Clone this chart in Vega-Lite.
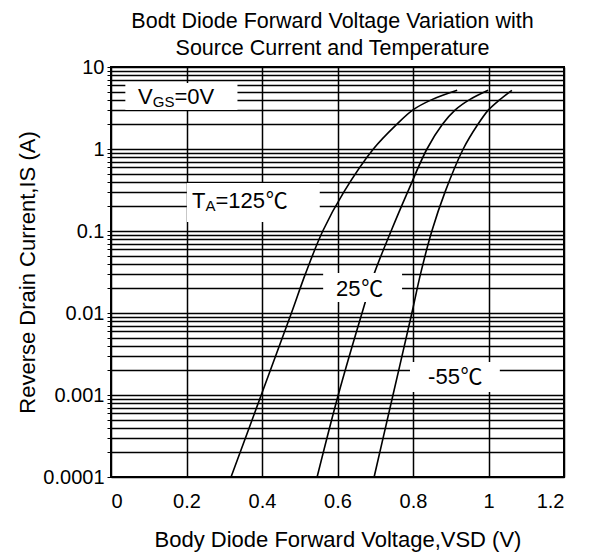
{
  "$schema": "https://vega.github.io/schema/vega-lite/v6.json",
  "width": 453,
  "height": 410,
  "autosize": "none",
  "padding": {"left": 111, "top": 67, "right": 28, "bottom": 80},
  "background": "white",
  "config": {
    "font": "Liberation Sans",
    "view": {"stroke": "black", "strokeWidth": 2},
    "axis": {"labelFont": "Liberation Sans", "titleFont": "Liberation Sans", "labelFontSize": 20, "titleFontSize": 22, "labelColor": "black", "titleColor": "black", "titleFontWeight": "normal", "gridColor": "black", "gridOpacity": 1, "gridWidth": 1.5, "domain": false}
  },
  "title": {
    "text": ["Bodt Diode Forward Voltage Variation with", "Source Current and Temperature"],
    "font": "Liberation Sans",
    "fontSize": 21.5,
    "fontWeight": "normal",
    "color": "black",
    "lineHeight": 27,
    "anchor": "middle",
    "offset": -2,
    "dx": -5
  },
  "datasets": {
    "curves": [
      {"t": "125", "v": 0.318, "i": 0.0001},
      {"t": "125", "v": 0.398, "i": 0.001},
      {"t": "125", "v": 0.478, "i": 0.01},
      {"t": "125", "v": 0.515, "i": 0.03},
      {"t": "125", "v": 0.561, "i": 0.1},
      {"t": "125", "v": 0.617, "i": 0.3},
      {"t": "125", "v": 0.695, "i": 1},
      {"t": "125", "v": 0.757, "i": 2},
      {"t": "125", "v": 0.80, "i": 3},
      {"t": "125", "v": 0.85, "i": 4},
      {"t": "125", "v": 0.917, "i": 5.2},
      {"t": "25", "v": 0.546, "i": 0.0001},
      {"t": "25", "v": 0.602, "i": 0.001},
      {"t": "25", "v": 0.665, "i": 0.01},
      {"t": "25", "v": 0.697, "i": 0.03},
      {"t": "25", "v": 0.742, "i": 0.1},
      {"t": "25", "v": 0.786, "i": 0.3},
      {"t": "25", "v": 0.837, "i": 1},
      {"t": "25", "v": 0.878, "i": 2},
      {"t": "25", "v": 0.912, "i": 3},
      {"t": "25", "v": 0.95, "i": 4},
      {"t": "25", "v": 0.999, "i": 5.2},
      {"t": "-55", "v": 0.697, "i": 0.0001},
      {"t": "-55", "v": 0.747, "i": 0.001},
      {"t": "-55", "v": 0.797, "i": 0.01},
      {"t": "-55", "v": 0.82, "i": 0.03},
      {"t": "-55", "v": 0.85, "i": 0.1},
      {"t": "-55", "v": 0.885, "i": 0.3},
      {"t": "-55", "v": 0.933, "i": 1},
      {"t": "-55", "v": 0.972, "i": 2},
      {"t": "-55", "v": 1.0, "i": 3},
      {"t": "-55", "v": 1.03, "i": 4},
      {"t": "-55", "v": 1.062, "i": 5.2}
    ]
  },
  "layer": [
    {
      "data": {"name": "curves"},
      "mark": {"type": "line", "color": "black", "strokeWidth": 1.6, "interpolate": "catmull-rom"},
      "encoding": {
        "x": {"field": "v", "type": "quantitative", "scale": {"domain": [0, 1.2], "nice": false},
          "axis": {"values": [0, 0.2, 0.4, 0.6, 0.8, 1, 1.2], "ticks": false, "labelPadding": 14, "title": "Body Diode Forward Voltage,VSD (V)", "titlePadding": 18, "format": "~g"}},
        "y": {"field": "i", "type": "quantitative", "scale": {"type": "log", "domain": [0.0001, 10], "nice": false},
          "axis": {"values": [0.0001,0.0002,0.0003,0.0004,0.0005,0.0006,0.0007,0.0008,0.0009,0.001,0.002,0.003,0.004,0.005,0.006,0.007,0.008,0.009,0.01,0.02,0.03,0.04,0.05,0.06,0.07,0.08,0.09,0.1,0.2,0.3,0.4,0.5,0.6,0.7,0.8,0.9,1,2,3,4,5,6,7,8,9,10],
            "labelExpr": "datum.value == 10 ? '10' : datum.value == 1 ? '1' : datum.value == 0.1 ? '0.1' : datum.value == 0.01 ? '0.01' : datum.value == 0.001 ? '0.001' : datum.value == 0.0001 ? '0.0001' : ''",
            "tickSize": 4, "tickColor": "black", "labelPadding": 3, "title": "Reverse Drain Current,IS (A)", "titlePadding": 3}},
        "detail": {"field": "t"}
      }
    },
    {
      "data": {"values": [{}]},
      "mark": {"type": "rect", "fill": "white"},
      "encoding": {"x": {"datum": 0.038}, "x2": {"datum": 0.335}, "y": {"datum": 6.4}, "y2": {"datum": 3.0}}
    },
    {
      "data": {"values": [{}]},
      "mark": {"type": "rect", "fill": "white"},
      "encoding": {"x": {"datum": 0.201}, "x2": {"datum": 0.553}, "y": {"datum": 0.385}, "y2": {"datum": 0.129}}
    },
    {
      "data": {"values": [{}]},
      "mark": {"type": "rect", "fill": "white"},
      "encoding": {"x": {"datum": 0.562}, "x2": {"datum": 0.771}, "y": {"datum": 0.0308}, "y2": {"datum": 0.0136}}
    },
    {
      "data": {"values": [{}]},
      "mark": {"type": "rect", "fill": "white"},
      "encoding": {"x": {"datum": 0.792}, "x2": {"datum": 1.03}, "y": {"datum": 0.00252}, "y2": {"datum": 0.00109}}
    },
    {
      "data": {"values": [{}]},
      "mark": {"type": "text", "fontSize": 22, "align": "left", "baseline": "middle", "color": "black"},
      "encoding": {"x": {"datum": 0.0715}, "y": {"datum": 4.3}, "text": {"value": "V"}}
    },
    {
      "data": {"values": [{}]},
      "mark": {"type": "text", "fontSize": 15, "align": "left", "baseline": "middle", "dy": 5, "color": "black"},
      "encoding": {"x": {"datum": 0.1105}, "y": {"datum": 4.3}, "text": {"value": "GS"}}
    },
    {
      "data": {"values": [{}]},
      "mark": {"type": "text", "fontSize": 22, "align": "left", "baseline": "middle", "color": "black"},
      "encoding": {"x": {"datum": 0.168}, "y": {"datum": 4.3}, "text": {"value": "=0V"}}
    },
    {
      "data": {"values": [{}]},
      "mark": {"type": "text", "fontSize": 22, "align": "left", "baseline": "middle", "color": "black"},
      "encoding": {"x": {"datum": 0.2146}, "y": {"datum": 0.232}, "text": {"value": "T"}}
    },
    {
      "data": {"values": [{}]},
      "mark": {"type": "text", "fontSize": 15, "align": "left", "baseline": "middle", "dy": 5, "color": "black"},
      "encoding": {"x": {"datum": 0.2502}, "y": {"datum": 0.232}, "text": {"value": "A"}}
    },
    {
      "data": {"values": [{}]},
      "mark": {"type": "text", "fontSize": 22, "align": "left", "baseline": "middle", "color": "black"},
      "encoding": {"x": {"datum": 0.2767}, "y": {"datum": 0.232}, "text": {"value": "=125"}}
    },
    {
      "data": {"values": [{}]},
      "mark": {"type": "text", "fontSize": 22, "align": "left", "baseline": "middle", "color": "black", "font": "Noto Sans CJK SC"},
      "encoding": {"x": {"datum": 0.41}, "y": {"datum": 0.232}, "text": {"value": "℃"}}
    },
    {
      "data": {"values": [{}]},
      "mark": {"type": "text", "fontSize": 22, "align": "left", "baseline": "middle", "color": "black"},
      "encoding": {"x": {"datum": 0.596}, "y": {"datum": 0.0196}, "text": {"value": "25"}}
    },
    {
      "data": {"values": [{}]},
      "mark": {"type": "text", "fontSize": 22, "align": "left", "baseline": "middle", "color": "black", "font": "Noto Sans CJK SC"},
      "encoding": {"x": {"datum": 0.663}, "y": {"datum": 0.0196}, "text": {"value": "℃"}}
    },
    {
      "data": {"values": [{}]},
      "mark": {"type": "text", "fontSize": 22, "align": "left", "baseline": "middle", "color": "black"},
      "encoding": {"x": {"datum": 0.84}, "y": {"datum": 0.00166}, "text": {"value": "-55"}}
    },
    {
      "data": {"values": [{}]},
      "mark": {"type": "text", "fontSize": 22, "align": "left", "baseline": "middle", "color": "black", "font": "Noto Sans CJK SC"},
      "encoding": {"x": {"datum": 0.926}, "y": {"datum": 0.00166}, "text": {"value": "℃"}}
    }
  ]
}
